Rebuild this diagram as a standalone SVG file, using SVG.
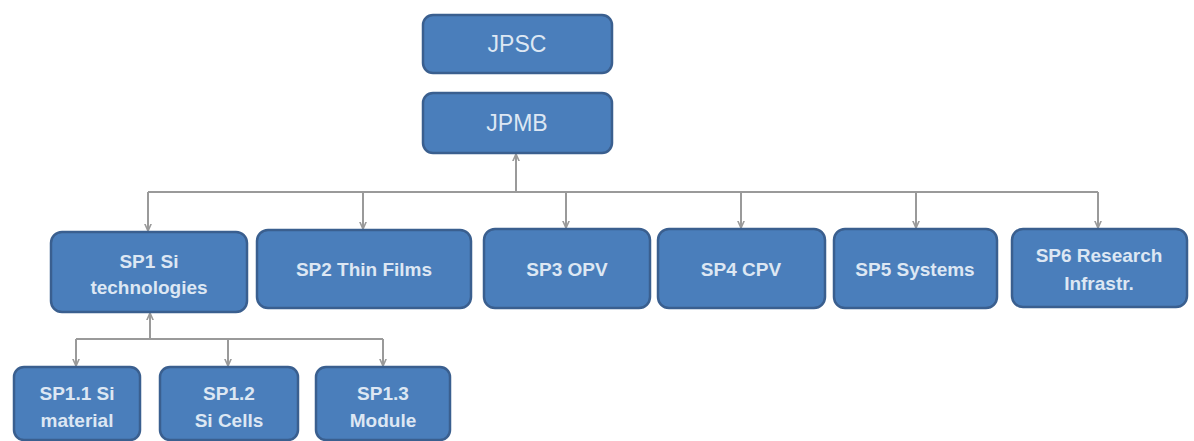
<svg xmlns="http://www.w3.org/2000/svg" width="1194" height="441" viewBox="0 0 1194 441">
<style>
.box{fill:#4a7ebb;stroke:#3a5f8f;stroke-width:2.5}
.t{font-family:"Liberation Sans",Arial,sans-serif;font-weight:bold;font-size:19px;fill:#dde7f3;text-anchor:middle}
.tt{font-family:"Liberation Sans",Arial,sans-serif;font-size:23px;fill:#dde7f3;text-anchor:middle}
.ln{fill:none;stroke:#9a9a9a;stroke-width:2}
</style>
<defs>
<marker id="ah" viewBox="0 0 10 10" refX="9" refY="5" markerWidth="4" markerHeight="4" orient="auto" markerUnits="strokeWidth">
<path d="M0,1 L9,5 L0,9" fill="none" stroke="#9a9a9a" stroke-width="2"/>
</marker>
</defs>
<rect width="1194" height="441" fill="#ffffff"/>
<g id="connectors">
<path class="ln" d="M148,192 H1098"/>
<path class="ln" d="M516,192 V154" marker-end="url(#ah)"/>
<path class="ln" d="M148,192 V231" marker-end="url(#ah)"/>
<path class="ln" d="M363,192 V229" marker-end="url(#ah)"/>
<path class="ln" d="M566,192 V228" marker-end="url(#ah)"/>
<path class="ln" d="M741,192 V228" marker-end="url(#ah)"/>
<path class="ln" d="M916,192 V228" marker-end="url(#ah)"/>
<path class="ln" d="M1098,192 V228" marker-end="url(#ah)"/>
<path class="ln" d="M76,339 H383"/>
<path class="ln" d="M150,339 V313" marker-end="url(#ah)"/>
<path class="ln" d="M76,339 V366" marker-end="url(#ah)"/>
<path class="ln" d="M228,339 V366" marker-end="url(#ah)"/>
<path class="ln" d="M383,339 V366" marker-end="url(#ah)"/>
</g>
<g id="jpsc"><rect class="box" x="423" y="15" width="189" height="58" rx="10"/><text class="tt" x="517" y="52">JPSC</text></g>
<g id="jpmb"><rect class="box" x="423" y="93" width="189" height="60" rx="10"/><text class="tt" x="517" y="131">JPMB</text></g>
<g id="sp1"><rect class="box" x="51" y="232" width="196" height="80" rx="11"/><text class="t" x="149" y="268">SP1 Si</text><text class="t" x="149" y="294">technologies</text></g>
<g id="sp2"><rect class="box" x="257" y="230" width="214" height="78" rx="11"/><text class="t" x="364" y="276">SP2 Thin Films</text></g>
<g id="sp3"><rect class="box" x="484" y="229" width="166" height="79" rx="11"/><text class="t" x="567" y="276">SP3 OPV</text></g>
<g id="sp4"><rect class="box" x="658" y="229" width="167" height="79" rx="11"/><text class="t" x="741" y="276">SP4 CPV</text></g>
<g id="sp5"><rect class="box" x="834" y="229" width="163" height="79" rx="11"/><text class="t" x="915" y="276">SP5 Systems</text></g>
<g id="sp6"><rect class="box" x="1012" y="229" width="175" height="78" rx="11"/><text class="t" x="1099" y="262">SP6 Research</text><text class="t" x="1099" y="290">Infrastr.</text></g>
<g id="sp11"><rect class="box" x="14" y="367" width="126" height="73" rx="10"/><text class="t" x="77" y="400">SP1.1 Si</text><text class="t" x="77" y="427">material</text></g>
<g id="sp12"><rect class="box" x="160" y="367" width="138" height="73" rx="10"/><text class="t" x="229" y="400">SP1.2</text><text class="t" x="229" y="427">Si Cells</text></g>
<g id="sp13"><rect class="box" x="316" y="367" width="134" height="73" rx="10"/><text class="t" x="383" y="400">SP1.3</text><text class="t" x="383" y="427">Module</text></g>
</svg>
